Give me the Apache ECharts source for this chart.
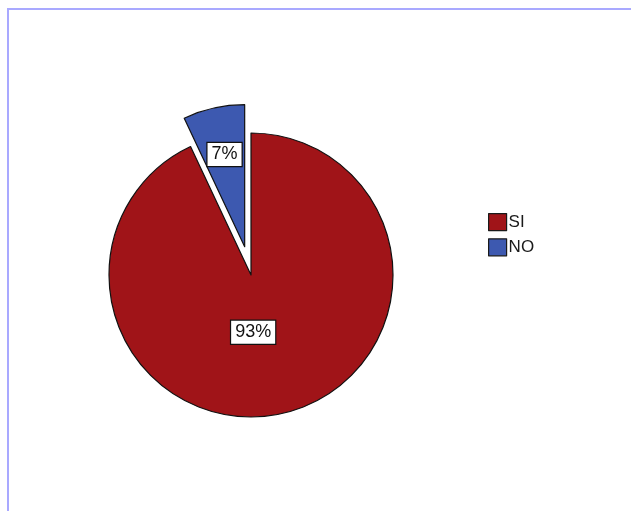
<!DOCTYPE html>
<html>
<head>
<meta charset="utf-8">
<script src="https://cdn.jsdelivr.net/npm/echarts@6/dist/echarts.min.js"></script>
<style>
  html, body { margin: 0; padding: 0; background: #fff; }
  #chart { width: 631px; height: 511px; }
</style>
</head>
<body>
<div id="chart"></div>
<script>
// Answer categories and their shares (percent)
const categories = ['SI', 'NO'];
const shares = [93, 7];
const colors = ['#A01418', '#3D59B0'];
const labelOffsets = [[-14, -15], [-4, -20]];

const chart = echarts.init(document.getElementById('chart'));

const pieData = categories.map((name, i) => ({
  name: name,
  value: shares[i],
  selected: name === 'NO',
  itemStyle: { color: colors[i] },
  label: { offset: labelOffsets[i] },
  select: { label: { offset: labelOffsets[i] } }
}));

chart.setOption({
  animation: false,
  backgroundColor: '#ffffff',
  graphic: [
    { type: 'line', shape: { x1: 8, y1: 9, x2: 631, y2: 9 }, style: { stroke: '#a9a9ff', lineWidth: 2 } },
    { type: 'line', shape: { x1: 8, y1: 8, x2: 8, y2: 511 }, style: { stroke: '#a9a9ff', lineWidth: 2 } }
  ],
  legend: {
    orient: 'vertical',
    left: 483,
    top: 208,
    itemWidth: 18,
    itemHeight: 17,
    itemGap: 7,
    icon: 'rect',
    selectedMode: false,
    data: categories,
    itemStyle: { borderColor: '#1a1a1a', borderWidth: 1.2 },
    textStyle: { fontFamily: 'Liberation Sans', fontSize: 17, color: '#1a1a1a', padding: [0, 0, 0, -3] }
  },
  series: [{
    type: 'pie',
    center: [251, 275],
    radius: 142,
    startAngle: 90,
    clockwise: true,
    selectedMode: 'single',
    selectedOffset: 29,
    avoidLabelOverlap: false,
    emphasis: { disabled: true },
    itemStyle: { borderColor: '#111', borderWidth: 1.2 },
    label: {
      show: true,
      position: 'inside',
      formatter: p => Math.round(p.percent) + '%',
      fontFamily: 'Liberation Sans',
      fontSize: 18,
      color: '#111',
      backgroundColor: '#ffffff',
      borderColor: '#111',
      borderWidth: 1.2,
      padding: [3, 4, 2, 4]
    },
    labelLine: { show: false },
    data: pieData
  }]
});
</script>
</body>
</html>
